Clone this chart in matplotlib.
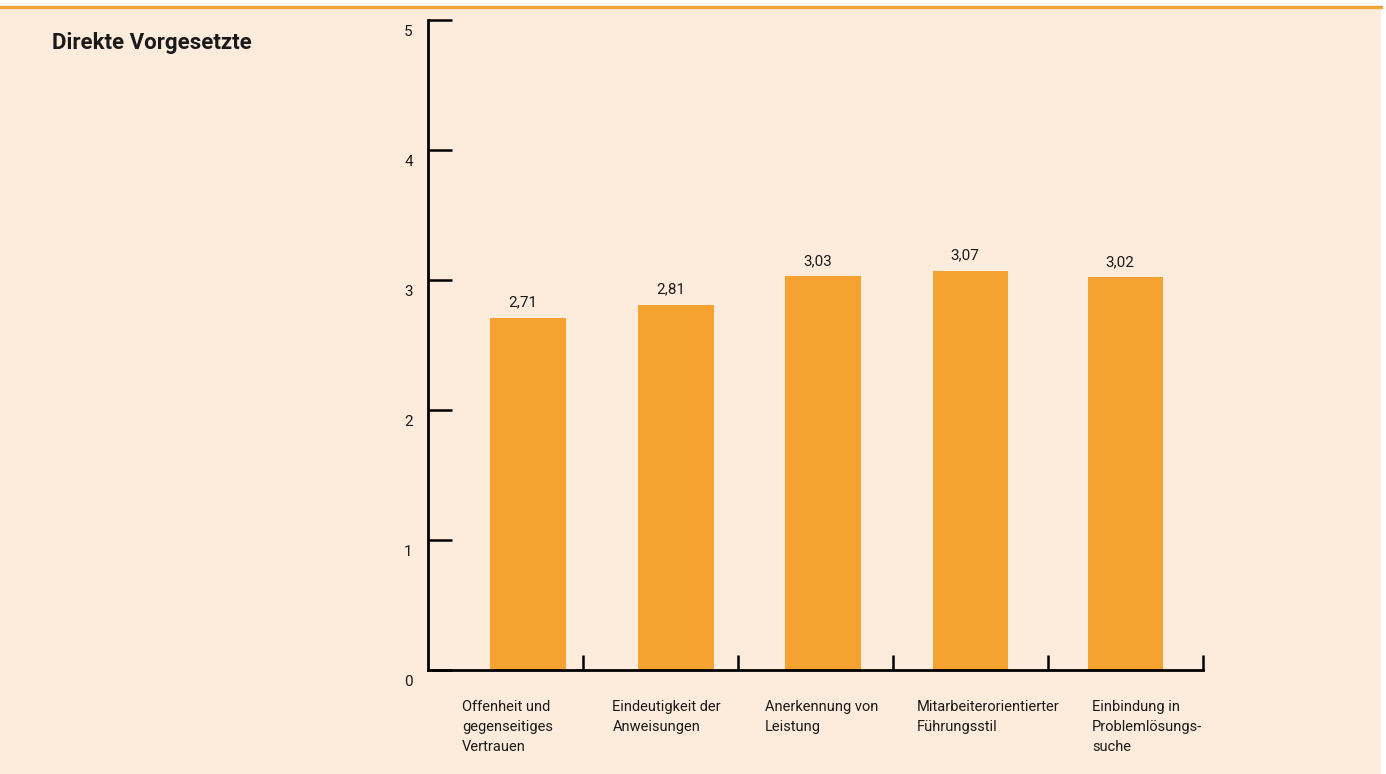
import matplotlib
matplotlib.use("Agg")
import matplotlib.pyplot as plt
import matplotlib.transforms as mtransforms
from matplotlib.patches import Rectangle
from matplotlib.lines import Line2D
import numpy as np

title = "Direkte Vorgesetzte"
categories = [
    "Offenheit und\ngegenseitiges\nVertrauen",
    "Eindeutigkeit der\nAnweisungen",
    "Anerkennung von\nLeistung",
    "Mitarbeiterorientierter\nFührungsstil",
    "Einbindung in\nProblemlösungs-\nsuche",
]
values = [2.71, 2.81, 3.03, 3.07, 3.02]
value_labels = ["2,71", "2,81", "3,03", "3,07", "3,02"]
yticks = [0, 1, 2, 3, 4, 5]

W, H = 1386, 774
DPI = 100
BG = "#FDECDB"
BAR = "#F5A231"
LINE = "#F5A43A"
TXT = "#1a1a1a"

plt.rcParams['font.family'] = ['Roboto', 'DejaVu Sans']

fig = plt.figure(figsize=(W / DPI, H / DPI), dpi=DPI)
fig.patch.set_facecolor("white")

fig.patches.append(Rectangle((0, 0), 1381 / W, (H - 9) / H, transform=fig.transFigure,
                             facecolor=BG, edgecolor="none", zorder=-10))
fig.lines.append(Line2D([0, 1381 / W], [(H - 7) / H, (H - 7) / H], transform=fig.transFigure,
                        color=LINE, lw=2.4, zorder=-5))

fig.text(52 / W, 1 - 43 / H, title, fontsize=16, fontweight="bold",
         color=TXT, ha="left", va="center")

ax = fig.add_axes([428 / W, (H - 670) / H, 775 / W, 650 / H])
ax.set_facecolor("none")

n = len(values)
positions = np.array([0.145, 1.1, 2.05, 3.0, 4.0])
ax.bar(positions, values, width=0.49, color=BAR, zorder=2)

for x, v, lab in zip(positions, values, value_labels):
    ax.annotate(lab, (x, v), xytext=(-4, 11), textcoords="offset points",
                ha="center", va="center", fontsize=11, color=TXT)

ax.set_xlim(-0.5, n - 0.5)
ax.set_ylim(0, 5)

for s in ["top", "right"]:
    ax.spines[s].set_visible(False)
for s in ["left", "bottom"]:
    ax.spines[s].set_linewidth(2)
    ax.spines[s].set_color("black")

ax.set_yticks(yticks)
ax.set_yticklabels([str(t) for t in yticks])
ax.tick_params(axis="y", direction="in", length=17, width=1.8, pad=11,
               labelsize=11, labelcolor=TXT)
offset = mtransforms.ScaledTranslation(0, -11 / DPI, fig.dpi_scale_trans)
for lbl in ax.get_yticklabels():
    lbl.set_transform(lbl.get_transform() + offset)

ax.set_xticks(np.arange(n) + 0.5)
ax.set_xticklabels([])
ax.tick_params(axis="x", direction="in", length=11, width=1.8)

pads = [0.22, 0.19, 0.175, 0.15, 0.285]
for i, cat in enumerate(categories):
    ax.annotate(cat, (i - 0.5 + pads[i], 0), xytext=(0, -21.5), textcoords="offset points",
                ha="left", va="top", fontsize=10.5, color=TXT, linespacing=1.55,
                annotation_clip=False)

fig.savefig("out.png", dpi=DPI, facecolor=fig.get_facecolor())
